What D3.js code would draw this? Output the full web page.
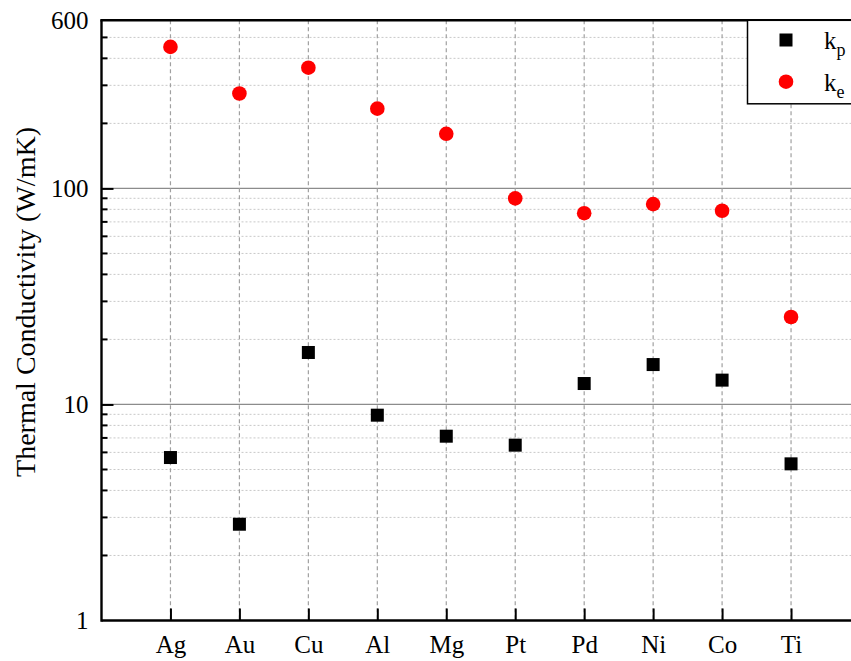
<!DOCTYPE html>
<html>
<head>
<meta charset="utf-8">
<script src="https://cdn.jsdelivr.net/npm/d3@7"></script>
<style>
  html, body { margin: 0; padding: 0; background: #fff; }
  svg { display: block; }
  svg text { font-family: "Liberation Serif", "DejaVu Serif", serif !important; fill: #000; }
</style>
</head>
<body>
<svg id="chart" width="851" height="661"></svg>
<script>
// Metals along the x axis
const metals = ["Ag", "Au", "Cu", "Al", "Mg", "Pt", "Pd", "Ni", "Co", "Ti"];
// Phonon contribution k_p (W/mK)
const kPhonon = [5.68, 2.79, 17.4, 8.92, 7.13, 6.48, 12.5, 15.3, 12.96, 5.31];
// Electron contribution k_e (W/mK)
const kElectron = [452, 275, 362, 234, 179, 89.9, 76.8, 84.6, 78.8, 25.4];
// Labelled y ticks
const yTickLabels = [1, 10, 100, 600];

(function draw() {
  const svg = d3.select("#chart");
  const serif = "Liberation Serif";
  const padL = 101.5, padR = 860, padT = 20.3, padB = 620.5;

  const x = d3.scaleLinear().domain([0, metals.length + 1]).range([padL, padR]);
  const y = d3.scaleLog().domain([1, 600]).range([padB, padT]);

  // minor values 2..9 per decade, plus 200..500 in the top partial decade
  const minor = [];
  [1, 10, 100].forEach(d => {
    for (let m = 2; m <= 9; m++) { const v = d * m; if (v < 600) minor.push(v); }
  });
  const major = [10, 100];

  const grid = svg.append("g");
  // minor horizontal grid (dotted)
  grid.append("g").selectAll("line").data(minor).join("line")
    .attr("x1", padL).attr("x2", padR)
    .attr("y1", d => y(d)).attr("y2", d => y(d))
    .attr("stroke", "#c8c8c8").attr("stroke-width", 1)
    .attr("stroke-dasharray", "2,2");
  // major horizontal grid (solid)
  grid.append("g").selectAll("line").data(major).join("line")
    .attr("x1", padL).attr("x2", padR)
    .attr("y1", d => y(d)).attr("y2", d => y(d))
    .attr("stroke", "#8c8c8c").attr("stroke-width", 1.2);
  // vertical grid (dashed) at each metal
  grid.append("g").selectAll("line").data(metals).join("line")
    .attr("x1", (d, i) => x(i + 1)).attr("x2", (d, i) => x(i + 1))
    .attr("y1", padT).attr("y2", padB)
    .attr("stroke", "#a0a0a0").attr("stroke-width", 1.2)
    .attr("stroke-dasharray", "4,3");

  // Axes
  const yAxis = svg.append("g").attr("transform", `translate(${padL},0)`)
    .call(d3.axisLeft(y).tickValues(yTickLabels).tickFormat(d3.format("d"))
      .tickSizeInner(-12).tickSizeOuter(0).tickPadding(13));
  yAxis.attr("font-family", serif).attr("font-size", 25);
  yAxis.select(".domain").remove();
  yAxis.selectAll(".tick line").attr("stroke-width", 2);
  // the 600 tick lies under the frame line and 1 sits on the x axis
  yAxis.selectAll(".tick").filter(d => d === 600 || d === 1).select("line").remove();

  // minor y ticks
  svg.append("g").selectAll("line").data(minor).join("line")
    .attr("x1", padL).attr("x2", padL + 6)
    .attr("y1", d => y(d)).attr("y2", d => y(d))
    .attr("stroke", "#000").attr("stroke-width", 2);

  const xAxis = svg.append("g").attr("transform", `translate(0,${padB})`)
    .call(d3.axisBottom(x).tickValues(d3.range(1, metals.length + 1))
      .tickFormat(i => metals[i - 1]).tickSizeInner(-12).tickSizeOuter(0).tickPadding(15));
  xAxis.attr("font-family", serif).attr("font-size", 25);
  xAxis.select(".domain").remove();
  xAxis.selectAll(".tick line").attr("stroke-width", 2);

  // frame lines
  svg.append("line").attr("x1", padL).attr("x2", padR).attr("y1", padB).attr("y2", padB)
    .attr("stroke", "#000").attr("stroke-width", 2.4);
  svg.append("line").attr("x1", padL).attr("x2", padL).attr("y1", padT).attr("y2", padB + 1.2)
    .attr("stroke", "#000").attr("stroke-width", 2.4);
  svg.append("line").attr("x1", padL - 1.2).attr("x2", padR).attr("y1", padT).attr("y2", padT)
    .attr("stroke", "#000").attr("stroke-width", 2.4);

  // Axis title
  svg.append("text")
    .attr("transform", "translate(35,302) rotate(-90)")
    .attr("text-anchor", "middle")
    .attr("font-family", serif)
    .attr("font-size", 28)
    .text("Thermal Conductivity (W/mK)");

  // k_p squares
  const sq = 13;
  svg.append("g").selectAll("rect").data(kPhonon).join("rect")
    .attr("x", (d, i) => x(i + 1) - sq / 2)
    .attr("y", d => y(d) - sq / 2)
    .attr("width", sq).attr("height", sq)
    .attr("fill", "#000");

  // k_e circles
  svg.append("g").selectAll("circle").data(kElectron).join("circle")
    .attr("cx", (d, i) => x(i + 1))
    .attr("cy", d => y(d))
    .attr("r", 7.3)
    .attr("fill", "#ff0000");

  // Legend
  const lg = svg.append("g").attr("font-family", serif);
  lg.append("rect").attr("x", 747.5).attr("y", padT).attr("width", 120).attr("height", 83.5)
    .attr("fill", "#fff").attr("stroke", "#000").attr("stroke-width", 1.5);
  lg.append("rect").attr("x", 786 - sq / 2).attr("y", 40 - sq / 2).attr("width", sq).attr("height", sq).attr("fill", "#000");
  lg.append("circle").attr("cx", 786).attr("cy", 81.7).attr("r", 7.3).attr("fill", "#ff0000");
  const t1 = lg.append("text").attr("x", 824).attr("y", 49).attr("font-size", 25);
  t1.append("tspan").text("k");
  t1.append("tspan").attr("dy", 7).attr("font-size", 18).text("p");
  const t2 = lg.append("text").attr("x", 824).attr("y", 91).attr("font-size", 25);
  t2.append("tspan").text("k");
  t2.append("tspan").attr("dy", 7).attr("font-size", 18).text("e");
})();
</script>
</body>
</html>
